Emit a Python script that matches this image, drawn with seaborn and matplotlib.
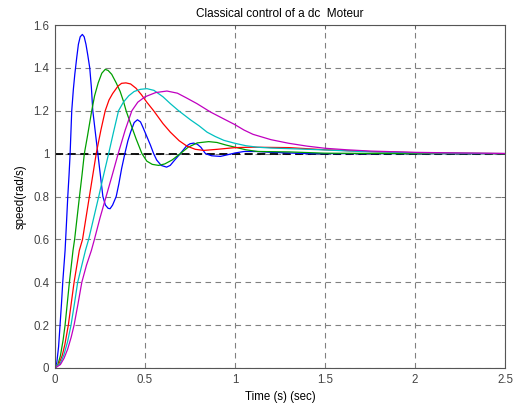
import numpy as np
import pandas as pd
import matplotlib
matplotlib.use("Agg")
import matplotlib.pyplot as plt
import seaborn as sns

# ---- data ----
t_blue = [0, 0.01, 0.02, 0.028, 0.036, 0.043, 0.05, 0.056, 0.064, 0.071, 0.078, 0.084, 0.093, 0.102,
          0.11, 0.121, 0.13, 0.14, 0.152, 0.162, 0.172, 0.182, 0.193, 0.202, 0.21, 0.224, 0.238,
          0.252, 0.266, 0.28, 0.295, 0.306, 0.32, 0.34, 0.355, 0.37, 0.388, 0.405, 0.42, 0.44, 0.458,
          0.475, 0.49, 0.51, 0.53, 0.548, 0.565, 0.59, 0.62, 0.64, 0.665, 0.696, 0.73, 0.75, 0.77,
          0.79, 0.81, 0.836, 0.87, 0.919, 0.96, 1.0, 1.05, 1.12, 1.2, 1.3, 1.4, 1.6, 2.0, 2.5]
y_blue = [0, 0.025, 0.1, 0.2, 0.3, 0.4, 0.48, 0.548, 0.68, 0.8, 0.9, 1.0, 1.2, 1.3,
          1.37, 1.45, 1.51, 1.545, 1.556, 1.545, 1.51, 1.46, 1.4, 1.31, 1.2, 1.1, 1.0,
          0.9, 0.8, 0.76, 0.745, 0.743, 0.76, 0.8, 0.86, 0.93, 1.0, 1.06, 1.1, 1.145, 1.158,
          1.148, 1.12, 1.08, 1.04, 1.0, 0.97, 0.945, 0.937, 0.945, 0.97, 1.0, 1.035, 1.046, 1.049,
          1.044, 1.03, 1.0, 0.99, 0.987, 0.995, 1.003, 1.01, 1.01, 1.006, 1.003, 1.0, 1.0, 1.0, 1.0]

t_green = [0, 0.015, 0.03, 0.045, 0.056, 0.068, 0.08, 0.1, 0.109, 0.136, 0.15, 0.163, 0.18, 0.204,
           0.22, 0.24, 0.26, 0.279, 0.295, 0.315, 0.34, 0.362, 0.38, 0.395, 0.42, 0.45, 0.483,
           0.51, 0.54, 0.576, 0.61, 0.65, 0.696, 0.74, 0.79, 0.854, 0.9, 0.95, 1.0, 1.06, 1.124,
           1.3, 1.5, 2.0, 2.5]
y_green = [0, 0.014, 0.057, 0.13, 0.2, 0.3, 0.4, 0.548, 0.6, 0.8, 0.9, 1.0, 1.08, 1.2,
           1.27, 1.33, 1.375, 1.393, 1.388, 1.37, 1.33, 1.29, 1.245, 1.2, 1.14, 1.07, 1.0,
           0.965, 0.95, 0.945, 0.952, 0.97, 1.0, 1.03, 1.05, 1.056, 1.052, 1.04, 1.03, 1.018, 1.01,
           1.008, 1.002, 1.0, 1.0]

t_red = [0, 0.02, 0.04, 0.055, 0.074, 0.09, 0.106, 0.135, 0.153, 0.172, 0.191, 0.21, 0.229, 0.255,
         0.279, 0.3, 0.32, 0.35, 0.37, 0.394, 0.42, 0.45, 0.48, 0.51, 0.548, 0.6, 0.641, 0.69,
         0.733, 0.78, 0.826, 0.9, 1.0, 1.1, 1.3, 1.5, 1.8, 2.1, 2.5]
y_red = [0, 0.015, 0.058, 0.11, 0.2, 0.3, 0.4, 0.548, 0.6, 0.7, 0.8, 0.9, 1.0, 1.11,
         1.2, 1.25, 1.28, 1.315, 1.328, 1.33, 1.325, 1.305, 1.275, 1.24, 1.2, 1.14, 1.1, 1.06,
         1.035, 1.02, 1.015, 1.02, 1.028, 1.03, 1.028, 1.018, 1.008, 1.003, 1.0]

t_cyan = [0, 0.03, 0.05, 0.07, 0.089, 0.108, 0.126, 0.169, 0.187, 0.215, 0.243, 0.27, 0.298, 0.325,
          0.353, 0.38, 0.41, 0.44, 0.475, 0.511, 0.55, 0.6, 0.641, 0.687, 0.752, 0.8, 0.845, 0.89,
          0.938, 1.0, 1.06, 1.124, 1.2, 1.309, 1.476, 1.7, 2.0, 2.5]
y_cyan = [0, 0.022, 0.063, 0.123, 0.2, 0.3, 0.4, 0.548, 0.6, 0.7, 0.8, 0.9, 1.0, 1.1,
          1.2, 1.24, 1.27, 1.29, 1.3, 1.303, 1.295, 1.265, 1.233, 1.2, 1.158, 1.13, 1.1, 1.08,
          1.062, 1.048, 1.037, 1.03, 1.026, 1.023, 1.018, 1.01, 1.004, 1.0]

t_mag = [0, 0.03, 0.05, 0.07, 0.09, 0.106, 0.128, 0.149, 0.175, 0.202, 0.219, 0.25, 0.284, 0.318,
         0.351, 0.39, 0.427, 0.46, 0.5, 0.56, 0.622, 0.68, 0.73, 0.789, 0.864, 0.919, 1.0, 1.05,
         1.1, 1.2, 1.3, 1.4, 1.5, 1.62, 1.75, 2.0, 2.25, 2.5]
y_mag = [0, 0.016, 0.045, 0.087, 0.144, 0.2, 0.3, 0.4, 0.48, 0.548, 0.6, 0.7, 0.8, 0.9,
         1.0, 1.11, 1.2, 1.24, 1.265, 1.285, 1.292, 1.282, 1.26, 1.233, 1.194, 1.17, 1.135, 1.11,
         1.09, 1.065, 1.048, 1.035, 1.025, 1.018, 1.012, 1.006, 1.003, 1.001]

series_names = ["s1", "s2", "s3", "s4", "s5"]
series_t = [t_blue, t_green, t_red, t_cyan, t_mag]
series_y = [y_blue, y_green, y_red, y_cyan, y_mag]
colors = ["#0000ff", "#00a000", "#ff0000", "#00c0c0", "#c000c0"]

ref_t = [0, 2.5]
ref_y = [1, 1]

x_ticks = [0, 0.5, 1, 1.5, 2, 2.5]
x_ticklabels = ["0", "0.5", "1", "1.5", "2", "2.5"]
y_ticks = [0, 0.2, 0.4, 0.6, 0.8, 1, 1.2, 1.4, 1.6]
y_ticklabels = ["0", "0.2", "0.4", "0.6", "0.8", "1", "1.2", "1.4", "1.6"]

title = "Classical control of a dc  Moteur"
xlabel = "Time (s) (sec)"
ylabel = "speed(rad/s)"

# ---- build long-form table ----
rows = []
for name, ts, ys in zip(series_names, series_t, series_y):
    for t, y in zip(ts, ys):
        rows.append({"t": t, "y": y, "series": name})
df = pd.DataFrame(rows)

sns.set_style("white")
plt.rcParams["font.family"] = ["Liberation Sans", "DejaVu Sans"]

fig = plt.figure(figsize=(5.17, 4.05), dpi=100)
ax = fig.add_axes([55 / 517, 1 - 368 / 405, 450 / 517, 343 / 405])

sns.lineplot(data=df, x="t", y="y", hue="series", palette=dict(zip(series_names, colors)),
             estimator=None, sort=False, linewidth=0.9, legend=False, ax=ax)
ax.plot(ref_t, ref_y, color="black", linestyle=(0, (4.5, 2.5)), linewidth=1.3, zorder=1)

ax.set_xlim(0, 2.5)
ax.set_ylim(0, 1.6)
ax.set_xticks(x_ticks)
ax.set_xticklabels(x_ticklabels)
ax.set_yticks(y_ticks)
ax.set_yticklabels(y_ticklabels)
ax.grid(True, linestyle=(0, (5, 4)), color="#808080", linewidth=0.8)
ax.set_axisbelow(True)
for s in ax.spines.values():
    s.set_visible(True)
    s.set_color("#555555")
    s.set_linewidth(0.8)
ax.tick_params(direction="in", length=3, width=0.6, colors="#555555", labelcolor="#444444",
               labelsize=8.3, top=True, right=True, pad=4)
ax.set_title(title, fontsize=8.5, color="black", pad=6)
ax.set_xlabel(xlabel, fontsize=8.3, color="black", labelpad=4)
ax.set_ylabel(ylabel, fontsize=8.3, color="black", labelpad=5)

fig.savefig("out.png", dpi=100)
